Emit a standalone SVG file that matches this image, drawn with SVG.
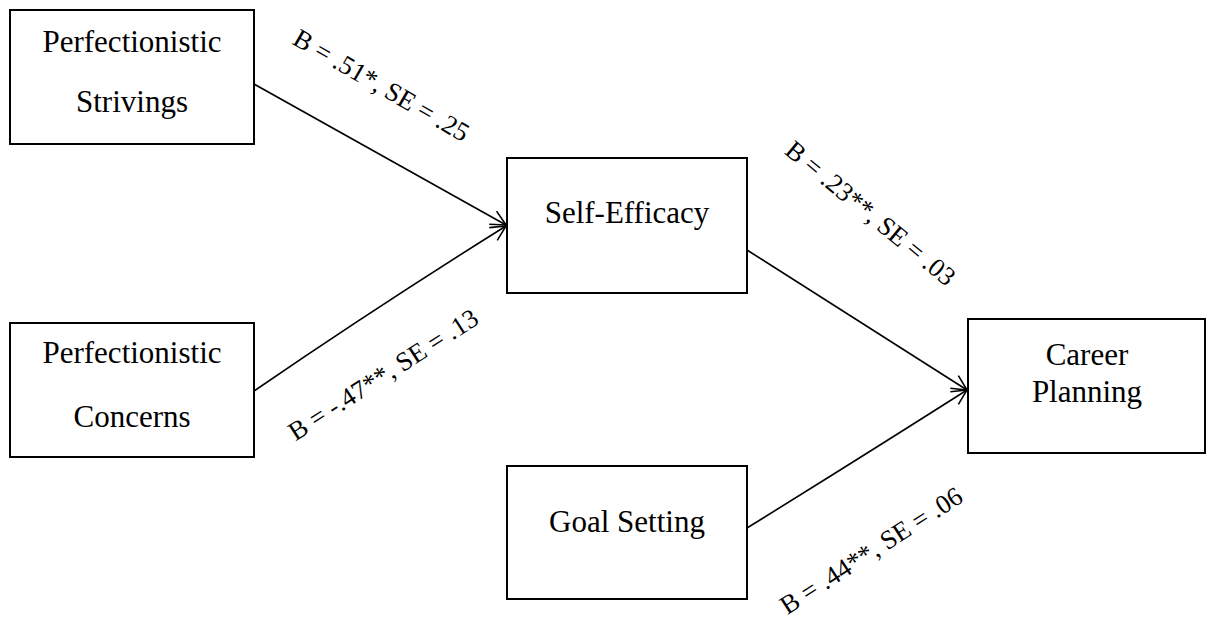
<svg xmlns="http://www.w3.org/2000/svg" width="1207" height="621" viewBox="0 0 1207 621">
  <style>
    .box { fill: #ffffff; stroke: #000000; stroke-width: 2; }
    .nt { font-size: 31px; fill: #000000; text-anchor: middle; }
    .lbl { font-size: 26.5px; fill: #000000; text-anchor: middle; }
    .edge { fill: none; stroke: #000000; stroke-width: 1.6; marker-end: url(#arrow); }
  </style>
  <defs>
    <marker id="arrow" markerUnits="userSpaceOnUse" markerWidth="20" markerHeight="20" viewBox="-18 -10 20 20" refX="0" refY="0" orient="auto">
      <path d="M -15,-7.5 L 0,0 L -15,7.5" fill="none" stroke="#000000" stroke-width="1.6"/>
    </marker>
  </defs>
  <rect width="1207" height="621" fill="#ffffff"/>

  <g id="connectors">
    <path class="edge" d="M 254,84 L 506,225"/>
    <path class="edge" d="M 254,391 Q 378,306 506,226"/>
    <path class="edge" d="M 747,250 L 967,390"/>
    <path class="edge" d="M 747,528 Q 860,458 967,390"/>
  </g>

  <g id="labels" font-family="'Liberation Serif', 'Times New Roman', Times, 'DejaVu Serif', serif">
    <text class="lbl" transform="translate(377,93) rotate(30)">B = .51*, SE = .25</text>
    <text class="lbl" transform="translate(388,382) rotate(-32.7)">B = -.47**, SE = .13</text>
    <text class="lbl" transform="translate(865,220) rotate(39.5)">B = .23**, SE = .03</text>
    <text class="lbl" transform="translate(876,558) rotate(-32.8)">B = .44**, SE = .06</text>
  </g>

  <g id="nodes" font-family="'Liberation Serif', 'Times New Roman', Times, 'DejaVu Serif', serif">
    <g id="node-strivings">
      <rect class="box" x="10" y="10" width="244" height="134"/>
      <text class="nt" x="132" y="52">Perfectionistic</text>
      <text class="nt" x="132" y="112">Strivings</text>
    </g>
    <g id="node-concerns">
      <rect class="box" x="10" y="323" width="244" height="134"/>
      <text class="nt" x="132" y="363">Perfectionistic</text>
      <text class="nt" x="132" y="427">Concerns</text>
    </g>
    <g id="node-selfefficacy">
      <rect class="box" x="507" y="158" width="240" height="135"/>
      <text class="nt" x="627" y="223">Self-Efficacy</text>
    </g>
    <g id="node-goalsetting">
      <rect class="box" x="507" y="466" width="240" height="133"/>
      <text class="nt" x="627" y="532">Goal Setting</text>
    </g>
    <g id="node-career">
      <rect class="box" x="968" y="319" width="237" height="134"/>
      <text class="nt" x="1087" y="365">Career</text>
      <text class="nt" x="1087" y="402">Planning</text>
    </g>
  </g>
</svg>
